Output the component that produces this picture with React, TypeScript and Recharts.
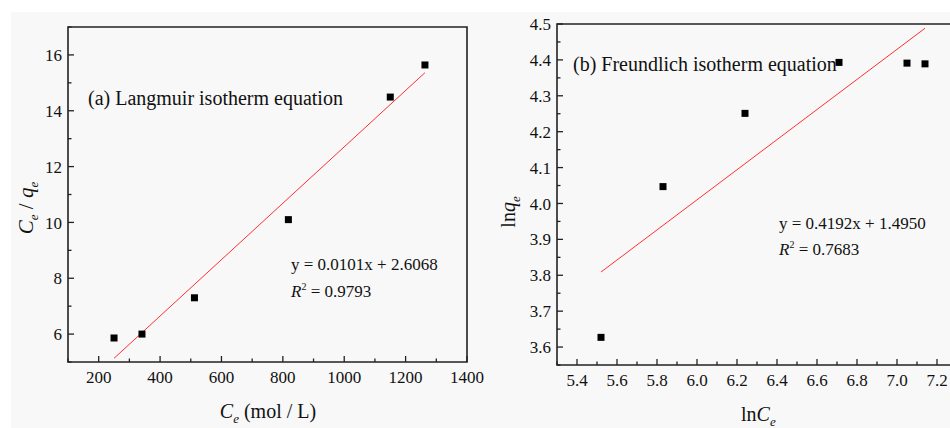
import { ScatterChart, Scatter, XAxis, YAxis, ReferenceArea } from 'recharts';

const FONT = "'Liberation Serif', 'Times New Roman', serif";
const INK = '#222';
const FIT = '#ff3030';

// (a) Langmuir: Ce against Ce/qe
const ceA = [250, 341, 512, 818, 1150, 1263];
const ratioA = [5.86, 6.0, 7.3, 10.1, 14.49, 15.64];
const fitA = { slope: 0.0101, intercept: 2.6068, r2: '0.9793' };
const xMajorA = [200, 400, 600, 800, 1000, 1200, 1400];
const xMinorA = [100, 300, 500, 700, 900, 1100, 1300];
const yMajorA = [6, 8, 10, 12, 14, 16];
const yMinorA = [5, 7, 9, 11, 13, 15, 17];

// (b) Freundlich: lnCe against lnqe
const lnCeB = [5.52, 5.83, 6.24, 6.71, 7.05, 7.14];
const lnQeB = [3.627, 4.047, 4.251, 4.393, 4.391, 4.389];
const fitB = { slope: 0.4192, intercept: 1.495, r2: '0.7683' };
const xMajorB = [5.4, 5.6, 5.8, 6.0, 6.2, 6.4, 6.6, 6.8, 7.0, 7.2];
const xMinorB = [5.3, 5.5, 5.7, 5.9, 6.1, 6.3, 6.5, 6.7, 6.9, 7.1, 7.3];
const yMajorB = [3.6, 3.7, 3.8, 3.9, 4.0, 4.1, 4.2, 4.3, 4.4, 4.5];
const yMinorB = [3.55, 3.65, 3.75, 3.85, 3.95, 4.05, 4.15, 4.25, 4.35, 4.45];

type Fit = { slope: number; intercept: number; r2: string };

const serif = { fontFamily: FONT };

const isMajor = (major: number[], v: number) => major.some(m => Math.abs(m - v) < 1e-6);

// ticks point into the plot; only majors carry a label
const makeXTick = (major: number[], digits: number) => (props: any) => {
  const { x, y, payload } = props;
  const big = isMajor(major, payload.value);
  return (
    <g>
      <line x1={x} y1={y} x2={x} y2={y - (big ? 6 : 3.5)} stroke={INK} strokeWidth={1.3} />
      {big && (
        <text x={x} y={y + 21} textAnchor="middle" style={serif} fontSize={17} fill="#111">
          {payload.value.toFixed(digits)}
        </text>
      )}
    </g>
  );
};

const makeYTick = (major: number[], digits: number) => (props: any) => {
  const { x, y, payload } = props;
  const big = isMajor(major, payload.value);
  return (
    <g>
      <line x1={x} y1={y} x2={x + (big ? 6 : 3.5)} y2={y} stroke={INK} strokeWidth={1.3} />
      {big && (
        <text x={x - 6} y={y} dy="0.36em" textAnchor="end" style={serif} fontSize={17} fill="#111">
          {payload.value.toFixed(digits)}
        </text>
      )}
    </g>
  );
};

const fitLine = (xs: number[], fit: Fit) => {
  const lo = Math.min(...xs);
  const hi = Math.max(...xs);
  return [lo, hi].map(x => ({ x, y: fit.slope * x + fit.intercept }));
};

const Square = (props: any) => (
  <rect x={props.cx - 3.5} y={props.cy - 3.5} width={7} height={7} fill="#000" />
);

interface PanelProps {
  width: number;
  height: number;
  margin: { top: number; right: number; bottom: number; left: number };
  xs: number[];
  ys: number[];
  fit: Fit;
  xDomain: [number, number];
  yDomain: [number, number];
  xMajor: number[];
  xMinor: number[];
  yMajor: number[];
  yMinor: number[];
  xDigits: number;
  yDigits: number;
}

function Panel(p: PanelProps) {
  const points = p.xs.map((x, i) => ({ x, y: p.ys[i] }));
  const xTicks = [...p.xMajor, ...p.xMinor].sort((a, b) => a - b);
  const yTicks = [...p.yMajor, ...p.yMinor].sort((a, b) => a - b);
  return (
    <ScatterChart width={p.width} height={p.height} margin={p.margin}>
      <XAxis
        type="number" dataKey="x" domain={p.xDomain} ticks={xTicks} interval={0}
        allowDataOverflow tickSize={0} tickMargin={0} axisLine={false} height={40}
        tick={makeXTick(p.xMajor, p.xDigits)}
      />
      <YAxis
        type="number" dataKey="y" domain={p.yDomain} ticks={yTicks} interval={0}
        allowDataOverflow tickSize={0} tickMargin={0} axisLine={false} width={60}
        tick={makeYTick(p.yMajor, p.yDigits)}
      />
      <ReferenceArea
        x1={p.xDomain[0]} x2={p.xDomain[1]} y1={p.yDomain[0]} y2={p.yDomain[1]}
        fill="none" fillOpacity={0} stroke={INK} strokeWidth={1.6}
      />
      <Scatter
        data={fitLine(p.xs, p.fit)} line={{ stroke: FIT, strokeWidth: 1 }}
        shape={() => <g />} isAnimationActive={false}
      />
      <Scatter data={points} shape={Square} isAnimationActive={false} />
    </ScatterChart>
  );
}

const eq = (fit: Fit) => `y = ${fit.slope.toFixed(4)}x + ${fit.intercept.toFixed(4)}`;

export default function App() {
  return (
    <div style={{ position: 'absolute', left: 0, top: 0, width: 950, height: 428, overflow: 'hidden', background: '#fff' }}>
      <div style={{ position: 'absolute', left: 11, top: 12, width: 939, height: 416, background: '#f8f8f8' }} />
      <div style={{ position: 'absolute', left: 0, top: 0 }}>
        <Panel
          width={500} height={428} margin={{ top: 27, right: 33, bottom: 26, left: 8 }}
          xs={ceA} ys={ratioA} fit={fitA} xDomain={[100, 1400]} yDomain={[5, 17]}
          xMajor={xMajorA} xMinor={xMinorA} yMajor={yMajorA} yMinor={yMinorA} xDigits={0} yDigits={0}
        />
      </div>
      <div style={{ position: 'absolute', left: 480, top: 0 }}>
        <Panel
          width={500} height={428} margin={{ top: 24, right: 23, bottom: 23, left: 17 }}
          xs={lnCeB} ys={lnQeB} fit={fitB} xDomain={[5.3, 7.3]} yDomain={[3.55, 4.5]}
          xMajor={xMajorB} xMinor={xMinorB} yMajor={yMajorB} yMinor={yMinorB} xDigits={1} yDigits={1}
        />
      </div>
      <svg width={950} height={428} style={{ position: 'absolute', left: 0, top: 0, pointerEvents: 'none', fontFamily: FONT }}
        fill="#111">
        {/* panel (a) */}
        <text x={88} y={105} fontSize={20}>(a) Langmuir isotherm equation</text>
        <text x={291} y={270} fontSize={17}>{eq(fitA)}</text>
        <text x={291} y={297} fontSize={17}>
          <tspan fontStyle="italic">R</tspan>
          <tspan dy={-7} fontSize={10}>2</tspan>
          <tspan dy={7}>{` = ${fitA.r2}`}</tspan>
        </text>
        <text x={268} y={418} fontSize={20} textAnchor="middle">
          <tspan fontStyle="italic">C</tspan>
          <tspan dy={5} fontSize={13} fontStyle="italic">e</tspan>
          <tspan dy={-5}> (mol / L)</tspan>
        </text>
        <text x={33} y={208} fontSize={21} textAnchor="middle" transform="rotate(-90 33 208)">
          <tspan fontStyle="italic">C</tspan>
          <tspan dy={5} fontSize={13} fontStyle="italic">e</tspan>
          <tspan dy={-5}> / </tspan>
          <tspan fontStyle="italic">q</tspan>
          <tspan dy={5} fontSize={13} fontStyle="italic">e</tspan>
        </text>
        {/* panel (b) */}
        <text x={573} y={71} fontSize={20}>(b) Freundlich isotherm equation</text>
        <text x={779} y={229} fontSize={17}>{eq(fitB)}</text>
        <text x={779} y={255} fontSize={17}>
          <tspan fontStyle="italic">R</tspan>
          <tspan dy={-7} fontSize={10}>2</tspan>
          <tspan dy={7}>{` = ${fitB.r2}`}</tspan>
        </text>
        <text x={741} y={421} fontSize={20}>
          ln<tspan fontStyle="italic">C</tspan>
          <tspan dy={5} fontSize={13} fontStyle="italic">e</tspan>
        </text>
        <text x={515} y={212} fontSize={20} textAnchor="middle" transform="rotate(-90 515 212)">
          ln<tspan fontStyle="italic">q</tspan>
          <tspan dy={5} fontSize={13} fontStyle="italic">e</tspan>
        </text>
      </svg>
    </div>
  );
}
